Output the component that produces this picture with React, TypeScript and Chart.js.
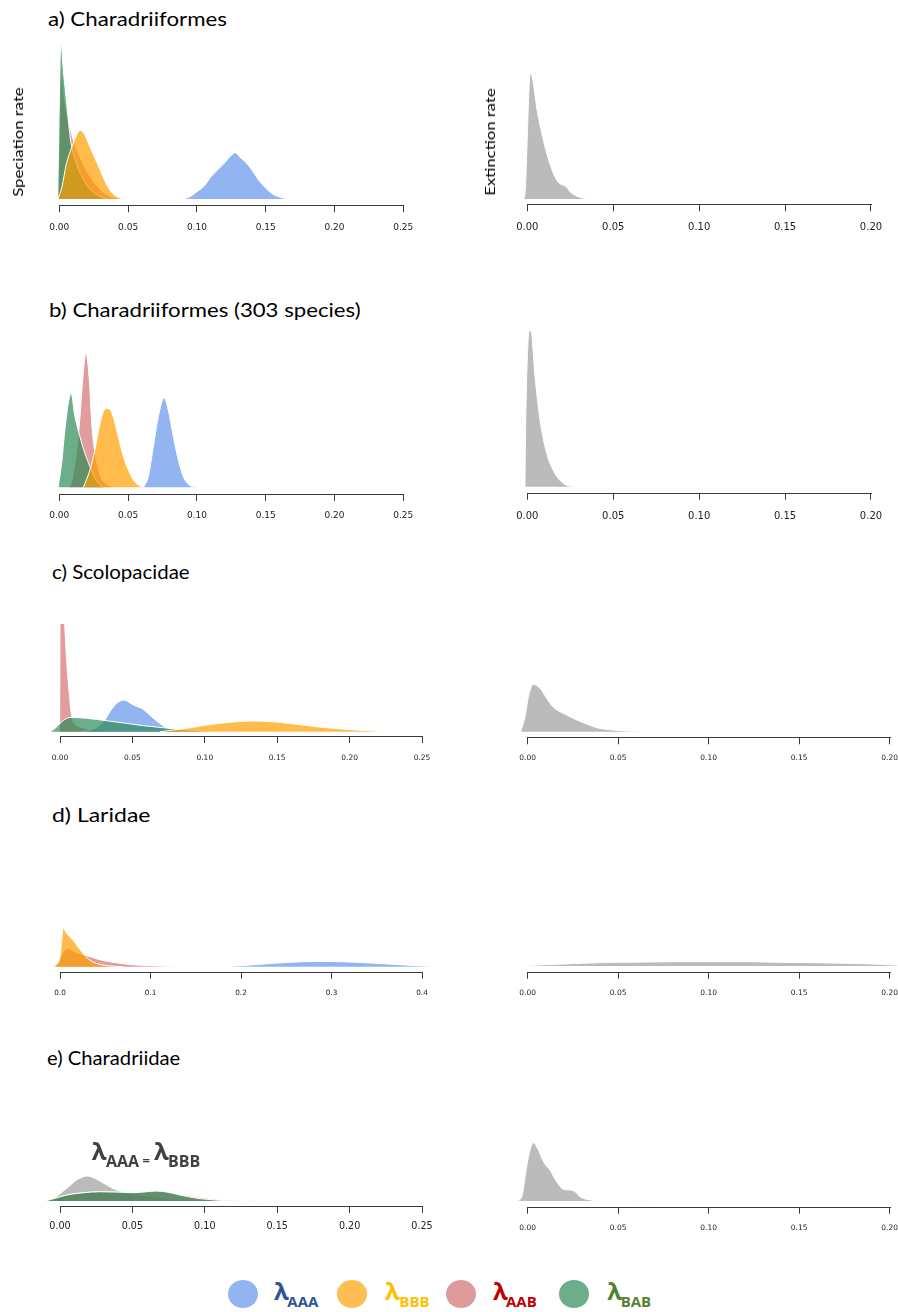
import React, { useEffect, useLayoutEffect, useRef } from "react";
import { Chart, registerables } from "chart.js";
Chart.register(...registerables);

// ---------- tick values ----------
const TICKS_025 = [0, 0.05, 0.1, 0.15, 0.2, 0.25];
const TICKS_020 = [0, 0.05, 0.1, 0.15, 0.2];
const TICKS_040 = [0, 0.1, 0.2, 0.3, 0.4];

// ---------- data: [rate, relative posterior density] ----------
// a) Charadriiformes – speciation
const A_SPEC_AAA: [number, number][] = [[0.09,0],[0.095,1.5],[0.1,4.7],[0.105,8],[0.11,14],[0.115,18.6],[0.12,23],[0.125,28],[0.128,29.7],[0.131,27],[0.135,24],[0.14,18.6],[0.145,12],[0.15,7],[0.155,3.2],[0.16,1.3],[0.165,0.3],[0.168,0]];
const A_SPEC_BBB: [number, number][] = [[-0.001,0],[0.002,8],[0.005,22],[0.009,33],[0.0125,41],[0.015,44],[0.018,42],[0.022,34],[0.026,26],[0.03,18],[0.034,10],[0.037,5.5],[0.041,2],[0.045,0.5],[0.048,0]];
const A_SPEC_AAB: [number, number][] = [[-0.001,0],[0.0015,80],[0.004,62],[0.008,45],[0.012,33],[0.015,27],[0.02,18],[0.025,11],[0.03,6],[0.035,2.5],[0.04,0.8],[0.045,0]];
const A_SPEC_BAB: [number, number][] = [[-0.0012,0],[0.0012,100],[0.003,82],[0.0055,60],[0.0083,37],[0.012,24],[0.016,15],[0.02,9],[0.025,4],[0.03,1.5],[0.035,0]];
const A_EXT: [number, number][] = [[-0.0019,0],[-0.0013,5],[0.0018,100],[0.0064,65],[0.0122,32],[0.0171,15],[0.0205,11],[0.0229,9.5],[0.0248,5.8],[0.0307,1.3],[0.0365,0]];

// b) Charadriiformes (303 species)
const B_SPEC_AAA: [number, number][] = [[0.061,0],[0.0647,8],[0.0683,30],[0.072,52.5],[0.0761,66.6],[0.0792,57.4],[0.0829,37.6],[0.0865,20.3],[0.0901,8],[0.0938,2.2],[0.0986,0]];
const B_SPEC_BBB: [number, number][] = [[0.0175,0],[0.0223,13],[0.0259,28],[0.0296,47.5],[0.033,58],[0.0344,58.5],[0.0368,58],[0.0393,52],[0.0429,37.6],[0.0466,22.8],[0.0502,13],[0.0539,5.4],[0.0575,1.7],[0.0624,0]];
const B_SPEC_AAB: [number, number][] = [[0.007,0],[0.009,4],[0.01,10],[0.012,22],[0.015,52],[0.017,80],[0.0194,100],[0.021,90],[0.0223,72],[0.0235,48],[0.025,32],[0.027,20],[0.03,8],[0.035,2],[0.04,0]];
const B_SPEC_BAB: [number, number][] = [[-0.0008,0],[0.0017,18],[0.0041,43],[0.0065,62],[0.0085,70],[0.0114,52.5],[0.015,37.6],[0.0187,25],[0.0223,15.3],[0.0259,6.7],[0.0296,1.7],[0.033,0]];
const B_EXT: [number, number][] = [[-0.0014,0],[-0.0008,49],[0.0012,100],[0.0021,100],[0.0045,70.5],[0.0074,42.7],[0.0113,21.4],[0.0161,8.5],[0.021,2.1],[0.0248,0.4],[0.0306,0]];

// c) Scolopacidae
const C_SPEC_AAA: [number, number][] = [[0.015,0],[0.02,1],[0.025,4],[0.03,9],[0.0345,18.6],[0.0391,26.3],[0.0442,29.4],[0.0506,24.8],[0.0575,20.7],[0.0645,12.4],[0.0714,5.3],[0.0737,3.7],[0.0783,1.5],[0.0829,0]];
const C_SPEC_BBB: [number, number][] = [[0.069,0],[0.0875,3.1],[0.101,6.2],[0.115,8.4],[0.131,9.9],[0.1427,9.6],[0.154,8.4],[0.166,6.5],[0.177,4.6],[0.189,3.1],[0.2,1.9],[0.212,0.9],[0.223,0.3],[0.235,0]];
const C_SPEC_AAB: [number, number][] = [[-0.0003,0],[0.0003,160],[0.0028,110],[0.0046,66],[0.0064,35],[0.0081,14],[0.01,8],[0.015,4],[0.02,2],[0.03,0.5],[0.04,0]];
const C_SPEC_BAB: [number, number][] = [[-0.0069,0],[-0.003,3.5],[0,7.7],[0.0046,12.4],[0.008,13.3],[0.0184,12.4],[0.0322,10.2],[0.046,7.7],[0.0575,5.6],[0.069,4],[0.0783,2.8],[0.0875,1.5],[0.0967,0.6],[0.106,0]];
const C_EXT: [number, number][] = [[-0.0039,0],[-0.0015,31.7],[0.0004,74],[0.0031,100],[0.0068,91.5],[0.0105,70.4],[0.0142,51.4],[0.0197,38.7],[0.0252,28.2],[0.0308,19],[0.0363,10.6],[0.0418,5.6],[0.0473,3.5],[0.0547,1.4],[0.062,0.7],[0.0694,0]];

// d) Laridae
const D_SPEC_AAA: [number, number][] = [[0.184,0],[0.21,4.3],[0.247,10.4],[0.2836,13.9],[0.32,12.2],[0.357,7.8],[0.394,2.6],[0.416,0]];
const D_SPEC_BBB: [number, number][] = [[-0.0055,0],[0,26],[0.0037,100],[0.0074,87],[0.0147,68],[0.0221,45],[0.0295,24],[0.0368,12],[0.0442,6],[0.055,2],[0.07,0]];
const D_SPEC_AAB: [number, number][] = [[-0.0074,0],[-0.0018,13],[0.0037,39],[0.0074,48],[0.0184,37],[0.0295,29],[0.04,21],[0.05,15],[0.0626,10],[0.08,5],[0.1,2.5],[0.12,1],[0.14,0]];
const D_EXT: [number, number][] = [[-0.0079,0],[0.0105,2.8],[0.0289,5.6],[0.0473,7.7],[0.0657,8.4],[0.084,9.1],[0.1026,9.1],[0.121,9.1],[0.139,7.7],[0.158,7],[0.176,5.6],[0.195,3.5],[0.205,1.4],[0.215,0]];

// e) Charadriidae
const E_SPEC_EQ: [number, number][] = [[-0.0104,0],[-0.0035,14.7],[0.0046,50.7],[0.0115,84],[0.0189,100],[0.0253,86.7],[0.0322,64],[0.0391,44],[0.046,34.7],[0.06,20],[0.08,8],[0.1,3],[0.12,0.5],[0.14,0]];
const E_SPEC_AAB: [number, number][] = [[-0.0104,0],[-0.0035,10],[0.0046,23],[0.0161,32.5],[0.0276,36.5],[0.0391,35.5],[0.0506,33],[0.0599,36.5],[0.0668,39],[0.0737,35.5],[0.0829,26],[0.0921,18],[0.1013,11],[0.108,7],[0.12,2.7],[0.131,1.3],[0.154,0]];
const E_SPEC_BAB: [number, number][] = [[-0.0104,0],[-0.0035,10.7],[0.0046,24],[0.0161,33.3],[0.0276,37.3],[0.0391,36],[0.0506,33.3],[0.0599,37.3],[0.0668,40],[0.0737,36],[0.0829,24],[0.0921,13.3],[0.1013,6.7],[0.1105,2.7],[0.12,0]];
const E_EXT: [number, number][] = [[-0.0061,0],[-0.0033,7.4],[-0.0006,59],[0.0013,87.4],[0.0031,100],[0.0059,87.4],[0.0087,67.4],[0.0123,53],[0.016,33],[0.0197,20],[0.0234,18.9],[0.0262,16],[0.0289,7.4],[0.0326,2.9],[0.0381,0.6],[0.0436,0],[0.0473,0.6],[0.051,0],[0.0602,0.5],[0.0694,0]];

// ---------- colours ----------
const BLUE = "rgba(100,149,237,0.7)";
const ORANGE = "rgba(255,160,0,0.7)";
const RED = "rgba(205,92,92,0.6)";
const GREEN = "rgba(46,139,87,0.7)";
const GRAY = "rgba(150,150,150,0.65)";

type Series = { data: [number, number][]; color: string };
type PanelCfg = {
  left: number; width: number;
  x0: number; k: number; xmin: number; xmax: number;
  axisY: number; baseY: number; topY: number; topVal: number;
  ticks: number[]; decimals: number; fontSize: number; labelY: number;
  series: Series[]; // top-most first
};

const L25 = { left: 10, width: 445, x0: 59.3, k: 1376, xmin: -0.02, xmax: 0.27 };
const R20 = { left: 470, width: 440, x0: 527.3, k: 1718.5, xmin: -0.01, xmax: 0.21 };
const L25b = { left: 10, width: 445, x0: 60, k: 1448, xmin: -0.02, xmax: 0.265 };
const R20b = { left: 470, width: 440, x0: 527.7, k: 1810, xmin: -0.01, xmax: 0.21 };

const PANELS: PanelCfg[] = [
  { ...L25, axisY: 205.3, baseY: 199, topY: 43, topVal: 100, ticks: TICKS_025, decimals: 2, fontSize: 9, labelY: 227.8,
    series: [{ data: A_SPEC_BBB, color: ORANGE }, { data: A_SPEC_BAB, color: GREEN }, { data: A_SPEC_AAA, color: BLUE }, { data: A_SPEC_AAB, color: RED }] },
  { ...R20, axisY: 204.3, baseY: 199, topY: 72.7, topVal: 100, ticks: TICKS_020, decimals: 2, fontSize: 10, labelY: 227.7,
    series: [{ data: A_EXT, color: GRAY }] },
  { ...L25, axisY: 494, baseY: 487.3, topY: 352.7, topVal: 100, ticks: TICKS_025, decimals: 2, fontSize: 9, labelY: 515.7,
    series: [{ data: B_SPEC_BBB, color: ORANGE }, { data: B_SPEC_BAB, color: GREEN }, { data: B_SPEC_AAA, color: BLUE }, { data: B_SPEC_AAB, color: RED }] },
  { ...R20, axisY: 492.7, baseY: 486.7, topY: 330.7, topVal: 100, ticks: TICKS_020, decimals: 2, fontSize: 10, labelY: 516,
    series: [{ data: B_EXT, color: GRAY }] },
  { ...L25b, axisY: 736, baseY: 731.7, topY: 624, topVal: 100, ticks: TICKS_025, decimals: 2, fontSize: 7.5, labelY: 757.7,
    series: [{ data: C_SPEC_BBB, color: ORANGE }, { data: C_SPEC_BAB, color: GREEN }, { data: C_SPEC_AAA, color: BLUE }, { data: C_SPEC_AAB, color: RED }] },
  { ...R20b, axisY: 737.3, baseY: 731.7, topY: 684.3, topVal: 100, ticks: TICKS_020, decimals: 2, fontSize: 7.5, labelY: 758.3,
    series: [{ data: C_EXT, color: GRAY }] },
  { left: 10, width: 445, x0: 60, k: 905, xmin: -0.03, xmax: 0.43, axisY: 971.7, baseY: 966.7, topY: 928.3, topVal: 100, ticks: TICKS_040, decimals: 1, fontSize: 7.3, labelY: 993.3,
    series: [{ data: D_SPEC_BBB, color: ORANGE }, { data: D_SPEC_AAB, color: RED }, { data: D_SPEC_AAA, color: BLUE }] },
  { ...R20b, axisY: 971.7, baseY: 966, topY: 918.6, topVal: 100, ticks: TICKS_020, decimals: 2, fontSize: 7.5, labelY: 992.7,
    series: [{ data: D_EXT, color: GRAY }] },
  { ...L25b, axisY: 1206, baseY: 1201, topY: 1176, topVal: 100, ticks: TICKS_025, decimals: 2, fontSize: 9.6, labelY: 1226.7,
    series: [{ data: E_SPEC_BAB, color: GREEN }, { data: E_SPEC_AAB, color: RED }, { data: E_SPEC_EQ, color: GRAY }] },
  { ...R20b, axisY: 1206.7, baseY: 1201, topY: 1142.7, topVal: 100, ticks: TICKS_020, decimals: 2, fontSize: 7.5, labelY: 1228.3,
    series: [{ data: E_EXT, color: GRAY }] },
];

const axisLinePlugin = {
  id: "axisLine",
  afterDraw(chart: any) {
    const xs = chart.scales.x;
    const t = xs.ticks;
    if (!t || !t.length) return;
    const ctx = chart.ctx;
    const x1 = Math.round(xs.getPixelForValue(t[0].value)) + 0.5;
    const x2 = Math.round(xs.getPixelForValue(t[t.length - 1].value)) + 0.5;
    const y = Math.round(chart.chartArea.bottom) + 0.5;
    ctx.save();
    ctx.strokeStyle = "#3a3a3a";
    ctx.lineWidth = 1;
    ctx.beginPath();
    ctx.moveTo(x1 - 0.5, y);
    ctx.lineTo(x2 + 0.5, y);
    ctx.stroke();
    ctx.restore();
  },
};

function Panel({ cfg }: { cfg: PanelCfg }) {
  const ref = useRef<HTMLCanvasElement>(null);
  const canvasTop = Math.round(cfg.topY - 12);
  const height = Math.ceil(cfg.axisY - canvasTop + 40);
  useEffect(() => {
    const yPx = (cfg.baseY - cfg.topY) / cfg.topVal;
    const yMin = -(cfg.axisY - cfg.baseY) / yPx;
    const padL = cfg.x0 + cfg.xmin * cfg.k - cfg.left;
    const padR = cfg.left + cfg.width - (cfg.x0 + cfg.xmax * cfg.k);
    const padT = cfg.topY - canvasTop;
    const padB = height - 40 - (cfg.axisY - canvasTop);
    const tickPad = cfg.labelY - cfg.axisY - 7 - 0.6 * cfg.fontSize;
    const chart = new Chart(ref.current as HTMLCanvasElement, {
      type: "line",
      data: {
        datasets: cfg.series.map((s) => ({
          data: s.data.map(([x, y]) => ({ x, y })),
          backgroundColor: s.color,
          borderColor: "#ffffff",
          borderWidth: 1,
          fill: "origin",
          pointRadius: 0,
          tension: 0.4,
          cubicInterpolationMode: "monotone",
        })),
      },
      options: {
        responsive: false,
        animation: false,
        devicePixelRatio: 1,
        events: [],
        layout: { padding: { left: padL, right: padR, top: padT, bottom: padB } },
        plugins: { legend: { display: false }, tooltip: { enabled: false } },
        scales: {
          x: {
            type: "linear",
            min: cfg.xmin,
            max: cfg.xmax,
            afterBuildTicks: (s: any) => {
              s.ticks = cfg.ticks.map((v) => ({ value: v }));
            },
            afterFit: (s: any) => {
              s.height = 40;
            },
            grid: { display: true, drawOnChartArea: false, drawTicks: true, tickLength: 7, color: "#3a3a3a", tickColor: "#3a3a3a", lineWidth: 1 },
            border: { display: false },
            ticks: {
              padding: tickPad,
              autoSkip: false,
              maxRotation: 0,
              minRotation: 0,
              color: "#222222",
              font: { family: "'DejaVu Sans'", size: cfg.fontSize },
              callback: (v: any) => Number(v).toFixed(cfg.decimals),
            },
          },
          y: { display: false, min: yMin, max: cfg.topVal },
        },
      } as any,
      plugins: [axisLinePlugin],
    });
    return () => chart.destroy();
  }, []);
  return (
    <canvas
      ref={ref}
      width={cfg.width}
      height={height}
      style={{ position: "absolute", left: cfg.left, top: canvasTop, width: cfg.width, height }}
    />
  );
}

function Txt(props: { x: number; baseline: number; size: number; family: string; weight?: number; color?: string; children: any }) {
  const { x, baseline, size, family, weight = 400, color = "#000", children } = props;
  return (
    <div
      style={{
        position: "absolute",
        left: x,
        top: baseline - 0.888 * size,
        fontSize: size,
        lineHeight: `${size}px`,
        fontFamily: family,
        fontWeight: weight,
        color,
        whiteSpace: "nowrap",
      }}
    >
      {children}
    </div>
  );
}

// text stretched horizontally to a target width (the reference figure is scaled non-uniformly)
function StretchTxt(props: { x: number; baseline: number; size: number; target: number; children: any }) {
  const ref = useRef<HTMLDivElement>(null);
  useLayoutEffect(() => {
    const fit = () => {
      const el = ref.current;
      if (!el) return;
      const w = el.offsetWidth;
      if (w > 0) el.style.transform = `scaleX(${props.target / w})`;
    };
    fit();
    (document as any).fonts?.ready?.then(fit);
  }, []);
  return (
    <div
      ref={ref}
      style={{
        position: "absolute",
        left: props.x,
        top: props.baseline - 0.888 * props.size,
        fontSize: props.size,
        lineHeight: `${props.size}px`,
        fontFamily: "Lato",
        color: "#000",
        whiteSpace: "nowrap",
        transformOrigin: "0 50%",
      }}
    >
      {props.children}
    </div>
  );
}

function RotLabel({ text, cx, cy, target }: { text: string; cx: number; cy: number; target: number }) {
  const ref = useRef<HTMLDivElement>(null);
  useLayoutEffect(() => {
    const fit = () => {
      const el = ref.current;
      if (!el) return;
      const w = el.offsetWidth;
      if (w > 0) el.style.transform = `translate(-50%, -50%) rotate(-90deg) scaleX(${target / w})`;
    };
    fit();
    (document as any).fonts?.ready?.then(fit);
  }, []);
  return (
    <div
      ref={ref}
      style={{
        position: "absolute",
        left: cx,
        top: cy,
        transform: "translate(-50%, -50%) rotate(-90deg)",
        fontFamily: "Lato",
        fontSize: 13.5,
        lineHeight: "14px",
        whiteSpace: "nowrap",
        color: "#000",
      }}
    >
      {text}
    </div>
  );
}

const TITLES = [
  { text: "a) Charadriiformes", x: 48.3, baseline: 26, target: 179.4 },
  { text: "b) Charadriiformes (303 species)", x: 49.3, baseline: 317.3, target: 311.7 },
  { text: "c) Scolopacidae", x: 52, baseline: 578.8, target: 138 },
  { text: "d) Laridae", x: 52, baseline: 821.8, target: 98 },
  { text: "e) Charadriidae", x: 47, baseline: 1064.8, target: 133 },
];

const LEGEND = [
  { sub: "AAA", circle: "#92b5f2", text: "#2f5597", cx: 242.7, lx: 274, sx: 287.3 },
  { sub: "BBB", circle: "#ffbd52", text: "#ffc000", cx: 351.7, lx: 385, sx: 399.3 },
  { sub: "AAB", circle: "#de9b9b", text: "#c00000", cx: 461, lx: 493, sx: 506 },
  { sub: "BAB", circle: "#6cae89", text: "#548235", cx: 574.3, lx: 607.3, sx: 620.7 },
];

export default function App() {
  const lamFam = "'Open Sans'";
  return (
    <div style={{ position: "absolute", left: 0, top: 0, width: 898, height: 1312, overflow: "hidden", background: "#fff" }}>
      {PANELS.map((p, i) => (
        <Panel key={i} cfg={p} />
      ))}
      {TITLES.map((t, i) => (
        <StretchTxt key={i} x={t.x} baseline={t.baseline} size={19} target={t.target}>
          {t.text}
        </StretchTxt>
      ))}
      <RotLabel text="Speciation rate" cx={18} cy={142} target={110} />
      <RotLabel text="Extinction rate" cx={489.6} cy={141.7} target={107} />

      {/* annotation in panel e */}
      <Txt x={91.7} baseline={1160} size={24} family={lamFam} weight={700} color="#404040">λ</Txt>
      <Txt x={106} baseline={1167.3} size={16} family={lamFam} weight={700} color="#404040">AAA</Txt>
      <Txt x={142.5} baseline={1166} size={13} family={lamFam} weight={700} color="#404040">=</Txt>
      <Txt x={154} baseline={1160} size={24} family={lamFam} weight={700} color="#404040">λ</Txt>
      <Txt x={168} baseline={1167.3} size={16} family={lamFam} weight={700} color="#404040">BBB</Txt>

      {/* legend */}
      {LEGEND.map((l, i) => (
        <React.Fragment key={i}>
          <div
            style={{
              position: "absolute",
              left: l.cx - 15,
              top: 1294.3 - 14,
              width: 30,
              height: 28,
              borderRadius: "50%",
              background: l.circle,
            }}
          />
          <Txt x={l.lx} baseline={1300.7} size={24} family={lamFam} weight={700} color={l.text}>λ</Txt>
          <Txt x={l.sx} baseline={1307.3} size={15} family={lamFam} weight={700} color={l.text}>{l.sub}</Txt>
        </React.Fragment>
      ))}
    </div>
  );
}
